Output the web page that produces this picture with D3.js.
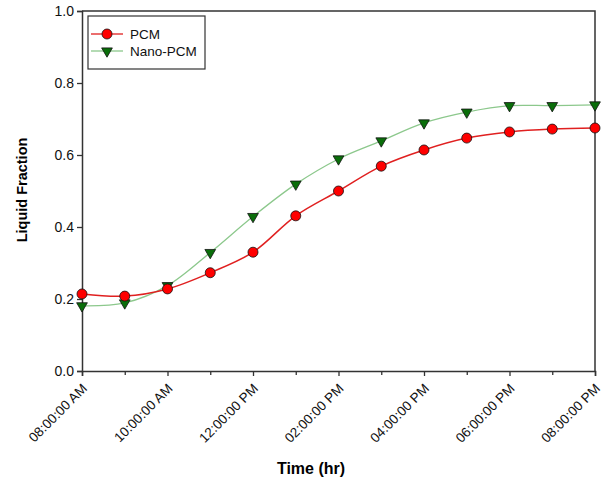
<!DOCTYPE html>
<html>
<head>
<meta charset="utf-8">
<script src="https://cdn.jsdelivr.net/npm/d3@7"></script>
<style>
  body { margin: 0; background: #fff; }
  text { font-family: Arial, "Liberation Sans", sans-serif; }
</style>
</head>
<body>
<script>
// hours of the day, 8 AM .. 8 PM
var hours = [8, 9, 10, 11, 12, 13, 14, 15, 16, 17, 18, 19, 20];
var pcm = [0.214, 0.208, 0.228, 0.273, 0.330, 0.431, 0.500, 0.569, 0.614, 0.647, 0.664, 0.672, 0.675];
var nanoPcm = [0.181, 0.189, 0.237, 0.329, 0.429, 0.519, 0.589, 0.639, 0.689, 0.719, 0.737, 0.737, 0.739];
var xTicks = [8, 10, 12, 14, 16, 18, 20];
var xTickLabels = ["08:00:00 AM", "10:00:00 AM", "12:00:00 PM", "02:00:00 PM", "04:00:00 PM", "06:00:00 PM", "08:00:00 PM"];
var yTicks = [0, 0.2, 0.4, 0.6, 0.8, 1.0];

var width = 606, height = 483;
var pLeft = 82, pRight = 595, pTop = 11, pBottom = 371;

var svg = d3.select("body")
    .append("svg")
    .attr("width", width)
    .attr("height", height);

var x = d3.scaleLinear().domain([8, 20]).range([pLeft, pRight]);
var y = d3.scaleLinear().domain([0, 1]).range([pBottom, pTop]);

// frame (top and right lines)
svg.append("path")
    .attr("d", "M" + pLeft + "," + pTop + "H" + pRight + "V" + pBottom)
    .attr("fill", "none")
    .attr("stroke", "#333")
    .attr("stroke-width", 1.5);

// x axis, major ticks with labels
var xAxis = svg.append("g")
    .attr("transform", "translate(0," + pBottom + ")")
    .call(d3.axisBottom(x)
        .tickValues(xTicks)
        .tickSize(5)
        .tickFormat(function(d, i) { return xTickLabels[i]; }));
// minor ticks on odd hours
svg.append("g")
    .attr("transform", "translate(0," + pBottom + ")")
    .call(d3.axisBottom(x)
        .tickValues(hours.filter(function(h) { return h % 2 === 1; }))
        .tickSize(4)
        .tickFormat(""))
    .select(".domain").remove();

xAxis.selectAll("text")
    .attr("font-size", 13.5)
    .attr("fill", "#111")
    .attr("text-anchor", "end")
    .attr("dy", "0.35em")
    .attr("transform", "translate(2,15) rotate(-45)")
    .attr("x", 0)
    .attr("y", 0);

var yAxis = svg.append("g")
    .attr("transform", "translate(" + pLeft + ",0)")
    .call(d3.axisLeft(y)
        .tickValues(yTicks)
        .tickSize(5)
        .tickFormat(d3.format(".1f")));
yAxis.selectAll("text")
    .attr("font-size", 14)
    .attr("fill", "#111");

svg.selectAll(".domain").attr("stroke", "#333").attr("stroke-width", 1.5);
svg.selectAll(".tick line").attr("stroke", "#333").attr("stroke-width", 1.3);

// axis titles
svg.append("text")
    .attr("x", 311)
    .attr("y", 474)
    .attr("text-anchor", "middle")
    .attr("font-size", 16)
    .attr("font-weight", "bold")
    .text("Time (hr)");

svg.append("text")
    .attr("transform", "translate(27,190) rotate(-90)")
    .attr("text-anchor", "middle")
    .attr("font-size", 14.5)
    .attr("font-weight", "bold")
    .text("Liquid Fraction");

var line = d3.line()
    .x(function(d, i) { return x(hours[i]); })
    .y(function(d) { return y(d); })
    .curve(d3.curveCatmullRom.alpha(0.5));

svg.append("path")
    .datum(nanoPcm)
    .attr("d", line)
    .attr("fill", "none")
    .attr("stroke", "#8cc88c")
    .attr("stroke-width", 1.3);

svg.append("path")
    .datum(pcm)
    .attr("d", line)
    .attr("fill", "none")
    .attr("stroke", "#e02020")
    .attr("stroke-width", 1.5);

var tri = d3.symbol().type(d3.symbolTriangle).size(50);

svg.selectAll(".nano")
    .data(nanoPcm)
    .enter().append("path")
    .attr("class", "nano")
    .attr("d", tri)
    .attr("transform", function(d, i) { return "translate(" + x(hours[i]) + "," + y(d) + ") rotate(180)"; })
    .attr("fill", "#0a6e0a")
    .attr("stroke", "#111")
    .attr("stroke-width", 0.8);

svg.selectAll(".pcm")
    .data(pcm)
    .enter().append("circle")
    .attr("class", "pcm")
    .attr("cx", function(d, i) { return x(hours[i]); })
    .attr("cy", function(d) { return y(d); })
    .attr("r", 5)
    .attr("fill", "#ff0000")
    .attr("stroke", "#111")
    .attr("stroke-width", 0.8);

// legend
var lg = svg.append("g");
lg.append("rect")
    .attr("x", 88).attr("y", 16)
    .attr("width", 117).attr("height", 53)
    .attr("fill", "#fff")
    .attr("stroke", "#333")
    .attr("stroke-width", 1.2);

var legendItems = [
    { name: "PCM", color: "#e02020", y: 34 },
    { name: "Nano-PCM", color: "#8cc88c", y: 51 }
];
legendItems.forEach(function(it, i) {
    lg.append("line")
        .attr("x1", 91).attr("x2", 123)
        .attr("y1", it.y).attr("y2", it.y)
        .attr("stroke", it.color)
        .attr("stroke-width", 1.3);
    if (i === 0) {
        lg.append("circle")
            .attr("cx", 107).attr("cy", it.y).attr("r", 5)
            .attr("fill", "#ff0000").attr("stroke", "#111").attr("stroke-width", 0.8);
    } else {
        lg.append("path")
            .attr("d", tri)
            .attr("transform", "translate(107," + it.y + ") rotate(180)")
            .attr("fill", "#0a6e0a").attr("stroke", "#111").attr("stroke-width", 0.8);
    }
    lg.append("text")
        .attr("x", 130).attr("y", it.y)
        .attr("dy", "0.35em")
        .attr("font-size", 13.5)
        .attr("fill", "#111")
        .text(it.name);
});
</script>
</body>
</html>
